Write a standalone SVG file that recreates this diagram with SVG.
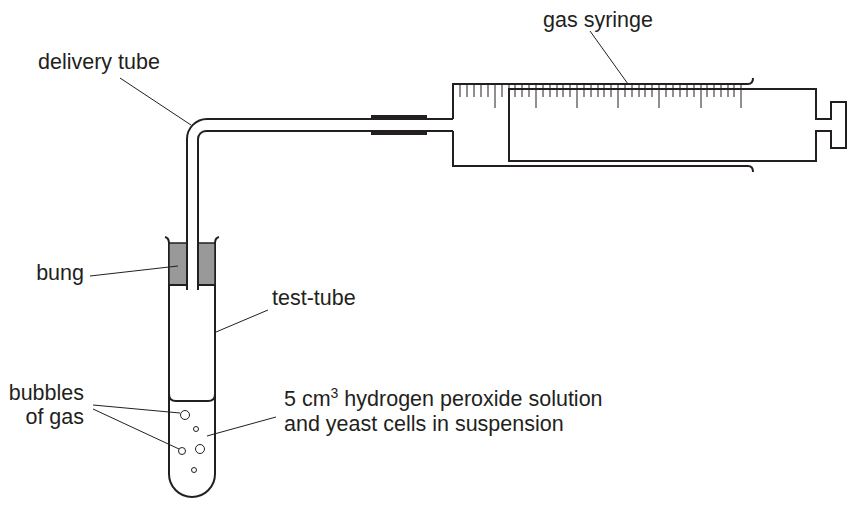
<svg xmlns="http://www.w3.org/2000/svg" width="852" height="515" viewBox="0 0 852 515">
<style>
.o{fill:none;stroke:#231f20;stroke-width:2}
.l{fill:none;stroke:#231f20;stroke-width:1}
.t{font-family:"Liberation Sans",Arial,sans-serif;font-size:21.5px;fill:#231f20}
.k{stroke:#231f20;stroke-width:1}
</style>
<rect width="852" height="515" fill="#fff"/>
<g id="test-tube">
<path class="o" d="M165,237 Q169,238 169,243 L169,474 A23,23 0 0 0 215,474 L215,243 Q215,238 219,237"/>
<path class="o" d="M169,394 Q169,401 176,401 L208,401 Q215,401 215,394"/>
</g>
<g id="bung">
<rect x="169" y="243" width="18" height="42" fill="#999" stroke="#231f20" stroke-width="1.5"/>
<rect x="198" y="243" width="17" height="42" fill="#999" stroke="#231f20" stroke-width="1.5"/>
<line class="o" x1="169" y1="285" x2="187" y2="285"/>
<line class="o" x1="198" y1="285" x2="215" y2="285"/>
</g>
<g id="delivery-tube">
<path class="o" d="M187,290 L187,139 A20,20 0 0 1 207,119 L453,119"/>
<path class="o" d="M198,290 L198,139 A8,8 0 0 1 206,131 L453,131"/>
<rect x="371" y="115" width="56" height="5" fill="#231f20"/>
<rect x="371" y="130" width="56" height="5" fill="#231f20"/>
<rect x="384" y="118" width="31" height="14" fill="#fff"/>
<line class="o" x1="371" y1="119" x2="453" y2="119"/>
<line class="o" x1="371" y1="131" x2="453" y2="131"/>
</g>
<g id="bubbles">
<circle class="l" cx="185" cy="415" r="4.5"/>
<circle class="l" cx="196" cy="429" r="2.5"/>
<circle class="l" cx="200" cy="449" r="4.5"/>
<circle class="l" cx="182" cy="451" r="3.5"/>
<circle class="l" cx="194" cy="470" r="2.5"/>
</g>
<g id="gas-syringe">
<path class="o" d="M453,119 L453,84 L748,84 Q753,84 753,78"/>
<path class="o" d="M453,131 L453,166 L748,166 Q753,166 753,172"/>
<path class="o" d="M509,89 L509,161 L816,161 L816,131 L831,131 L831,148 L846,148 L846,102 L831,102 L831,119 L816,119 L816,89 Z"/>
<g class="k">
<path d="M460,84v13M467,84v13M474,84v13M481,84v13M488,84v13M495,84v24M502,84v13M509,84v13M515,84v13M522,84v13M529,84v13M536,84v24M543,84v13M550,84v13M557,84v13M563,84v13M570,84v13M577,84v24M584,84v13M591,84v13M598,84v13M604,84v13M611,84v13M618,84v24M625,84v13M632,84v13M639,84v13M645,84v13M652,84v13M659,84v24M666,84v13M673,84v13M680,84v13M687,84v13M694,84v13M701,84v24M707,84v13M714,84v13M721,84v13M728,84v13M734,84v13M741,84v24"/>
</g>
</g>
<g id="connectors" class="l">
<line x1="590" y1="31" x2="628" y2="84"/>
<line x1="120" y1="78" x2="191" y2="125"/>
<line x1="90" y1="276" x2="178" y2="266"/>
<line x1="268" y1="310" x2="216" y2="332"/>
<line x1="93" y1="405" x2="180" y2="413"/>
<line x1="93" y1="409" x2="179" y2="449"/>
<line x1="276" y1="417" x2="207" y2="436"/>
</g>
<g id="labels" class="t">
<text x="543" y="27">gas syringe</text>
<text x="38" y="69">delivery tube</text>
<text x="84" y="280" text-anchor="end">bung</text>
<text x="272" y="305">test-tube</text>
<text x="84" y="400" text-anchor="end">bubbles</text>
<text x="84" y="424" text-anchor="end">of gas</text>
<text x="284" y="406">5 cm<tspan dy="-8" font-size="14">3</tspan><tspan dy="8"> hydrogen peroxide solution</tspan></text>
<text x="284" y="431">and yeast cells in suspension</text>
</g>
</svg>
